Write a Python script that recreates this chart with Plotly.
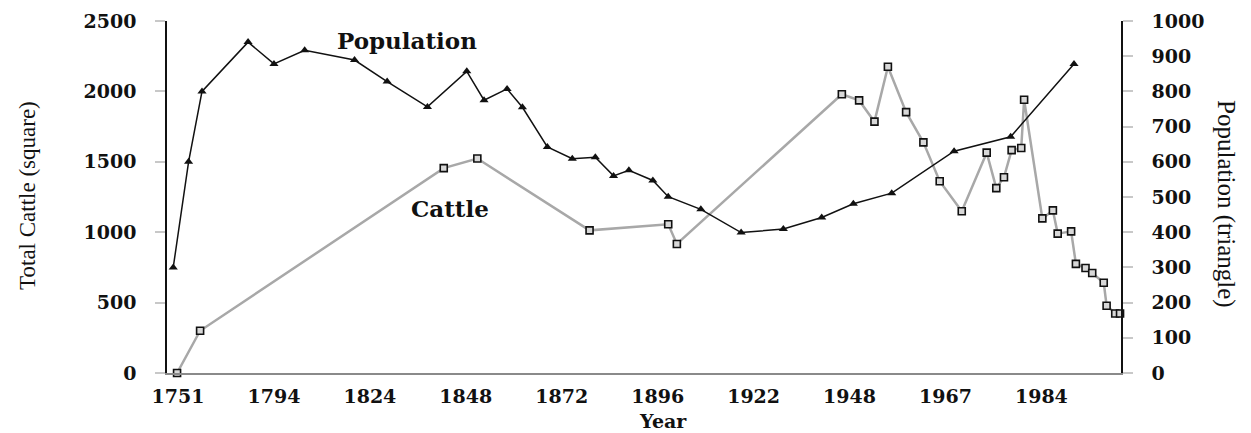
import plotly.graph_objects as go

# ---- data (x positions in axis-tick units: 0 = 1751 tick, 9 = 1984 tick) ----
tick_labels = ["1751", "1794", "1824", "1848", "1872", "1896", "1922", "1948", "1967", "1984"]
tick_pos = [0, 1, 2, 3, 4, 5, 6, 7, 8, 9]

pop_x = [-0.05, 0.11, 0.25, 0.73, 1.00, 1.32, 1.84, 2.18, 2.60, 3.01, 3.19, 3.43, 3.59,
         3.85, 4.11, 4.35, 4.54, 4.70, 4.95, 5.11, 5.45, 5.87, 6.31, 6.71, 7.04, 7.44,
         8.09, 8.68, 9.34]
pop_y = [300, 600, 800, 940, 878, 917, 889, 828, 756, 857, 775, 807, 755,
         642, 609, 613, 560, 576, 547, 501, 465, 399, 409, 442, 481, 511,
         630, 671, 878]

cattle_x = [-0.01, 0.23, 2.77, 3.12, 4.29, 5.11, 5.20, 6.92, 7.10, 7.26, 7.40, 7.59,
            7.77, 7.94, 8.17, 8.43, 8.53, 8.61, 8.69, 8.79, 8.82, 9.01, 9.12, 9.17,
            9.31, 9.36, 9.46, 9.53, 9.65, 9.68, 9.77, 9.82]
cattle_y = [0, 300, 1455, 1523, 1013, 1056, 916, 1980, 1936, 1785, 2175, 1853,
            1638, 1362, 1149, 1565, 1313, 1390, 1583, 1598, 1941, 1098, 1155, 990,
            1006, 775, 746, 710, 641, 478, 423, 423]

left_ticks = [0, 500, 1000, 1500, 2000, 2500]
right_ticks = [0, 100, 200, 300, 400, 500, 600, 700, 800, 900, 1000]

SERIF_B = dict(family="DejaVu Serif", size=19, color="#111", weight="bold")
LABEL_B = dict(family="DejaVu Serif", size=23, color="#111", weight="bold")

fig = go.Figure()
fig.add_trace(go.Scatter(
    x=cattle_x, y=cattle_y, mode="lines+markers", yaxis="y",
    line=dict(color="#a8a8a8", width=2.5),
    marker=dict(symbol="square", size=7, color="#d8d8d8",
                line=dict(color="#111", width=1.6)),
    cliponaxis=False, showlegend=False))
fig.add_trace(go.Scatter(
    x=pop_x, y=pop_y, mode="lines+markers", yaxis="y2",
    line=dict(color="#111", width=1.5),
    marker=dict(symbol="triangle-up", size=8, color="#111"),
    cliponaxis=False, showlegend=False))

fig.update_layout(
    width=1235, height=425,
    margin=dict(l=159, r=122, t=13, b=60, autoexpand=False),
    paper_bgcolor="white", plot_bgcolor="white",
    xaxis=dict(range=[-0.115, 9.83], tickmode="array", tickvals=tick_pos,
               ticktext=tick_labels, showgrid=False, zeroline=False,
               showline=True, linecolor="#8a8a8a", linewidth=1.5,
               ticks="", ticklabelstandoff=5, tickfont=SERIF_B,
               automargin=False, ticklabeloverflow="allow"),
    yaxis=dict(range=[0, 2500], tickmode="array", tickvals=left_ticks,
               showgrid=False, zeroline=False, showline=True,
               linecolor="#111", linewidth=1.5, ticks="outside", ticklen=10,
               tickcolor="#c8c8c8", tickwidth=1.5, ticklabelstandoff=15,
               tickfont=SERIF_B, automargin=False, ticklabeloverflow="allow"),
    yaxis2=dict(range=[0, 1000], tickmode="array", tickvals=right_ticks,
                overlaying="y", side="right", showgrid=False, zeroline=False,
                showline=True, linecolor="#111", linewidth=1.5,
                ticks="outside", ticklen=10, tickcolor="#c8c8c8", tickwidth=1.5,
                ticklabelstandoff=15, tickfont=SERIF_B, automargin=False,
                ticklabeloverflow="allow"),
    annotations=[
        dict(text="Population", x=2.39, y=2365, xref="x", yref="y",
             xanchor="center", yanchor="middle", showarrow=False, font=LABEL_B),
        dict(text="Cattle", x=2.83, y=1165, xref="x", yref="y",
             xanchor="center", yanchor="middle", showarrow=False, font=LABEL_B),
        dict(text="Year", x=0.52, y=-0.136, xref="paper", yref="paper",
             xanchor="center", yanchor="middle", showarrow=False,
             font=dict(family="DejaVu Serif", size=19, color="#111", weight="bold")),
        dict(text="Total Cattle (square)", x=-0.1457, y=0.503, xref="paper",
             yref="paper", textangle=-90, xanchor="center", yanchor="middle",
             showarrow=False,
             font=dict(family="Liberation Serif", size=23, color="#111")),
        dict(text="Population (triangle)", x=1.110, y=0.480, xref="paper",
             yref="paper", textangle=90, xanchor="center", yanchor="middle",
             showarrow=False,
             font=dict(family="Liberation Serif", size=25, color="#111")),
    ],
)

fig.write_html("out.html")
